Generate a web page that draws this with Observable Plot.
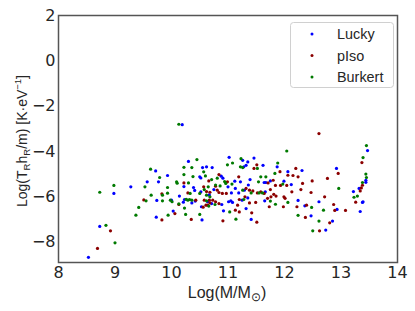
<!DOCTYPE html>
<html><head><meta charset="utf-8">
<script src="https://cdn.jsdelivr.net/npm/d3@7"></script>
<script src="https://cdn.jsdelivr.net/npm/@observablehq/plot@0.6"></script>
<style>body{margin:0;background:#fff;} svg{background:#fff;}</style>
</head><body><div id="chart"></div>
<script>
const seriesNames = ["Lucky", "pIso", "Burkert"];
const seriesColors = ["#0000ff", "#8b0000", "#007a00"];
const xTicks = [8, 9, 10, 11, 12, 13, 14];
const yTicks = [-8, -6, -4, -2, 0, 2];

const luckyX = [8.53,8.73,8.98,9.28,9.57,9.72,9.77,9.93,9.74,9.73,10.00,10.03,10.14,10.19,10.22,10.23,10.21,10.30,10.36,10.39,10.41,10.42,10.50,10.52,10.52,10.53,10.54,10.55,10.62,10.64,10.67,10.72,10.71,10.75,10.88,10.91,10.89,10.92,11.00,11.01,11.02,11.05,11.06,11.08,11.12,11.13,11.19,11.22,11.25,11.26,11.28,11.29,11.32,11.32,11.35,11.35,11.36,11.39,11.41,11.46,11.62,11.64,11.65,11.66,11.67,11.75,11.87,11.99,12.06,12.12,12.24,12.31,12.36,12.47,12.61,12.73,12.85,12.92,12.93,13.22,13.32,13.34,13.38,13.39,13.44,13.44,13.47];
const luckyY = [-8.67,-7.31,-5.85,-5.56,-5.34,-4.86,-5.34,-5.06,-6.16,-6.90,-6.15,-6.63,-5.97,-2.82,-5.55,-6.12,-6.24,-4.44,-6.27,-5.59,-5.72,-6.19,-5.12,-5.17,-5.78,-6.44,-7.02,-4.71,-4.68,-6.22,-5.92,-4.71,-6.30,-5.68,-5.09,-5.18,-6.34,-6.62,-5.56,-6.22,-4.26,-6.18,-5.83,-6.25,-5.31,-5.63,-5.83,-5.34,-6.15,-4.39,-4.68,-5.71,-4.61,-6.52,-4.46,-6.05,-5.48,-5.24,-7.00,-4.29,-4.61,-5.37,-6.18,-5.78,-5.37,-5.30,-4.68,-5.31,-4.89,-5.46,-6.16,-4.84,-6.40,-6.84,-6.22,-7.47,-7.07,-4.75,-6.56,-5.77,-5.63,-6.65,-6.25,-6.22,-5.27,-5.36,-3.96];

const pisoX = [8.69,8.92,9.51,9.83,9.83,10.06,10.13,10.22,10.29,10.35,10.43,10.56,10.57,10.58,10.61,10.62,10.64,10.66,10.67,10.68,10.68,10.73,10.78,10.78,10.81,10.84,10.84,10.84,10.90,10.91,10.97,10.99,11.13,11.17,11.19,11.20,11.20,11.30,11.32,11.38,11.38,11.42,11.44,11.46,11.49,11.51,11.51,11.52,11.58,11.64,11.70,11.71,11.73,11.75,11.76,11.80,11.81,11.84,11.85,11.92,11.93,11.98,11.99,12.01,12.04,12.06,12.13,12.15,12.20,12.22,12.24,12.29,12.32,12.37,12.39,12.47,12.49,12.61,12.62,12.71,12.76,12.80,12.87,12.89,12.95,13.08,13.26,13.34,13.36,13.37,13.38];
const pisoY = [-8.28,-7.50,-6.14,-5.87,-7.02,-6.74,-6.34,-5.39,-5.83,-7.00,-6.15,-6.46,-5.56,-6.15,-6.37,-5.77,-6.37,-5.30,-6.15,-5.80,-6.27,-6.15,-5.53,-6.22,-5.71,-5.02,-5.81,-6.30,-5.85,-7.06,-5.85,-5.34,-6.59,-6.37,-5.12,-6.12,-6.67,-6.00,-5.63,-5.71,-6.27,-6.71,-5.74,-4.75,-6.25,-4.59,-7.12,-5.83,-5.78,-5.85,-6.07,-5.39,-6.44,-5.68,-6.00,-5.27,-5.89,-5.50,-5.97,-4.89,-5.50,-6.44,-6.00,-6.07,-5.50,-5.05,-5.78,-5.06,-4.75,-6.44,-5.12,-5.68,-5.41,-6.91,-6.37,-5.81,-5.30,-3.21,-7.50,-6.00,-5.19,-7.15,-6.34,-6.60,-4.97,-6.60,-6.24,-5.74,-5.61,-4.49,-5.49];

const burkertX = [8.73,8.84,8.98,9.00,9.37,9.42,9.53,9.55,9.63,9.64,9.79,9.84,9.84,9.93,9.93,9.94,9.98,10.01,10.09,10.10,10.13,10.13,10.22,10.22,10.23,10.25,10.26,10.29,10.30,10.32,10.33,10.36,10.36,10.38,10.45,10.50,10.50,10.57,10.58,10.60,10.62,10.62,10.65,10.66,10.68,10.71,10.77,10.78,10.81,10.86,10.94,10.96,10.99,11.03,11.07,11.08,11.14,11.22,11.23,11.26,11.26,11.28,11.41,11.52,11.54,11.55,11.58,11.61,11.67,11.75,11.84,11.83,11.88,11.97,12.04,12.06,12.24,12.48,12.50,12.61,12.69,12.96,13.23,13.29,13.38,13.39,13.44,13.45,13.45];
const burkertY = [-5.80,-7.26,-5.50,-8.03,-6.81,-6.47,-5.56,-6.18,-4.78,-5.93,-5.15,-5.93,-6.18,-5.59,-5.84,-6.81,-6.15,-6.22,-5.34,-5.40,-2.80,-6.31,-4.70,-5.02,-6.50,-6.78,-6.11,-6.15,-5.39,-6.12,-5.85,-4.71,-6.15,-5.11,-4.36,-5.85,-6.78,-4.90,-5.68,-5.08,-6.18,-5.93,-5.56,-6.41,-6.00,-5.24,-6.34,-5.48,-5.18,-5.52,-5.33,-5.41,-4.59,-6.67,-5.44,-4.51,-6.99,-4.68,-4.32,-4.71,-5.71,-6.12,-5.83,-4.75,-5.34,-5.83,-5.12,-5.83,-5.12,-6.19,-6.33,-4.97,-4.51,-5.44,-3.98,-6.25,-6.82,-6.47,-7.50,-7.07,-6.59,-5.63,-6.02,-5.97,-5.37,-4.27,-5.00,-5.15,-3.74];

const seriesX = [luckyX, pisoX, burkertX];
const seriesY = [luckyY, pisoY, burkertY];
const data = seriesNames.flatMap((name, i) =>
  seriesX[i].map((x, j) => ({series: name, x, y: seriesY[i][j]})));

const tickFont = "DejaVu Sans";
const labelFont = "Liberation Sans, Arial, sans-serif";
const textColor = "#262626";
const minus = v => (v < 0 ? "\u2212" + Math.abs(v) : String(v));

const chart = Plot.plot({
  width: 415, height: 311,
  marginLeft: 58, marginRight: 18, marginTop: 15, marginBottom: 49,
  style: {background: "#fff", color: textColor},
  x: {domain: [8, 14]},
  y: {domain: [-8.9, 2]},
  color: {domain: seriesNames, range: seriesColors},
  marks: [
    Plot.axisX({ticks: xTicks, tickSize: 0, tickPadding: 4, tickFormat: minus, label: null,
      fontSize: 16, fontFamily: tickFont, fill: textColor}),
    Plot.axisY({ticks: yTicks, tickSize: 0, tickPadding: 3, tickFormat: minus, label: null,
      fontSize: 16, fontFamily: tickFont, fill: textColor}),
    Plot.dot(data, {x: "x", y: "y", fill: "series", r: 1.6, stroke: "none"}),
    Plot.frame({stroke: "#555", strokeWidth: 1.5})
  ]
});
document.getElementById("chart").append(chart);

const svg = d3.select(chart);
// x axis label
const xl = svg.append("text")
  .attr("x", 227).attr("y", 298).attr("text-anchor", "middle")
  .attr("font-family", labelFont).attr("font-size", 16).attr("fill", textColor);
xl.append("tspan").text("Log(M/M");
xl.append("tspan").attr("font-size", 11.5).attr("dy", 3).text("\u2299");
xl.append("tspan").attr("dy", -3).text(")");

// y axis label
const yl = svg.append("text")
  .attr("transform", "translate(27,141) rotate(-90)").attr("text-anchor", "middle")
  .attr("font-family", labelFont).attr("font-size", 14).attr("fill", textColor);
yl.append("tspan").text("Log(T");
yl.append("tspan").attr("font-size", 9.5).attr("dy", 3).text("R");
yl.append("tspan").attr("dy", -3).text("h");
yl.append("tspan").attr("font-size", 9.5).attr("dy", 3).text("R");
yl.append("tspan").attr("dy", -3).text("/m) [K\u00b7eV");
yl.append("tspan").attr("font-size", 9.5).attr("dy", -6).text("\u22121");
yl.append("tspan").attr("dy", 6).text("]");

// legend
const lg = svg.append("g");
lg.append("rect").attr("x", 290.5).attr("y", 22.5).attr("width", 103).attr("height", 65)
  .attr("rx", 3).attr("fill", "#fff").attr("fill-opacity", 0.8).attr("stroke", "#d0d0d0");
seriesNames.forEach((name, i) => {
  const cy = 34 + i * 21.5;
  lg.append("circle").attr("cx", 312).attr("cy", cy).attr("r", 1.5).attr("fill", seriesColors[i]);
  lg.append("text").attr("x", 337).attr("y", cy + 5).attr("text-anchor", "start")
    .attr("font-family", labelFont).attr("font-size", 14.4).attr("fill", textColor).text(name);
});
</script></body></html>
